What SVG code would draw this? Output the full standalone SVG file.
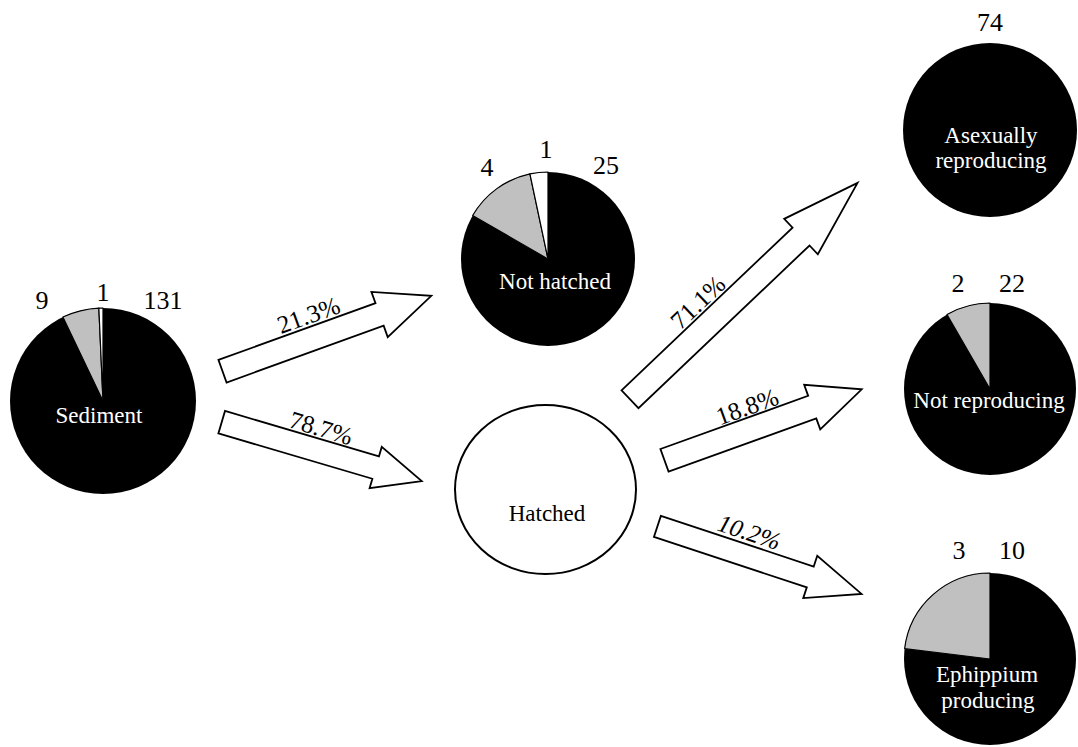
<svg xmlns="http://www.w3.org/2000/svg" width="1078" height="747" viewBox="0 0 1078 747">
<style>
  text { font-family: "Liberation Serif", "Times New Roman", serif; }
  .num { font-size: 26px; fill: #000; text-anchor: middle; }
  .lbl { font-size: 23px; fill: #fff; text-anchor: middle; }
  .pct { font-size: 25px; fill: #000; text-anchor: middle; }
  .pie { fill: #000; }
  .gray { fill: #c0c0c0; stroke: #000; stroke-width: 1.2; stroke-linejoin: round; }
  .white { fill: #fff; stroke: #000; stroke-width: 1.2; stroke-linejoin: round; }
  .arrow { fill: #fff; stroke: #000; stroke-width: 1.8; stroke-linejoin: miter; }
</style>
<rect width="1078" height="747" fill="#fff"/>

<g id="sediment">
  <circle class="pie" cx="103" cy="401" r="93"/>
  <path class="gray" d="M103,401 L98.86,308.09 A93,93 0 0 0 62.92,317.08 Z"/>
  <path class="white" d="M103,401 L103,308 A93,93 0 0 0 98.86,308.09 Z"/>
  <text class="lbl" x="99" y="423">Sediment</text>
  <text class="num" x="42" y="309">9</text>
  <text class="num" x="103" y="301">1</text>
  <text class="num" x="163" y="309">131</text>
</g>

<g id="not-hatched">
  <circle class="pie" cx="548" cy="259" r="87"/>
  <path class="gray" d="M548,259 L529.91,173.9 A87,87 0 0 0 472.66,215.5 Z"/>
  <path class="white" d="M548,259 L548,172 A87,87 0 0 0 529.91,173.9 Z"/>
  <text class="lbl" x="555" y="289">Not hatched</text>
  <text class="num" x="487" y="176">4</text>
  <text class="num" x="546" y="158">1</text>
  <text class="num" x="606" y="174">25</text>
</g>

<g id="hatched">
  <ellipse cx="545.5" cy="489.5" rx="90.5" ry="84.5" fill="#fff" stroke="#000" stroke-width="2"/>
  <text x="547" y="521" font-size="23" fill="#000" text-anchor="middle">Hatched</text>
</g>

<g id="asexually-reproducing">
  <circle class="pie" cx="990" cy="130" r="87"/>
  <text class="lbl" x="991" y="143">Asexually</text>
  <text class="lbl" x="991" y="168">reproducing</text>
  <text class="num" x="990" y="31">74</text>
</g>

<g id="not-reproducing">
  <circle class="pie" cx="990" cy="389" r="86"/>
  <path class="gray" d="M990,389 L990,303 A86,86 0 0 0 947,314.52 Z"/>
  <text class="lbl" x="989" y="408">Not reproducing</text>
  <text class="num" x="958" y="292">2</text>
  <text class="num" x="1012" y="292">22</text>
</g>

<g id="ephippium-producing">
  <circle class="pie" cx="990" cy="659" r="86"/>
  <path class="gray" d="M990,659 L990,573 A86,86 0 0 0 904.63,648.63 Z"/>
  <text class="lbl" x="987" y="682">Ephippium</text>
  <text class="lbl" x="988" y="708">producing</text>
  <text class="num" x="959" y="559">3</text>
  <text class="num" x="1012" y="559">10</text>
</g>

<g id="connectors">
  <g transform="translate(222.5,371.2) rotate(-19.86)">
    <polygon class="arrow" points="0,-12 167,-12 167,-24 222,0 167,24 167,12 0,12"/>
    <text class="pct" x="100" y="-15">21.3%</text>
  </g>
  <g transform="translate(221.7,422.2) rotate(16.4)">
    <polygon class="arrow" points="0,-11.7 160.5,-11.7 160.5,-21.5 208.5,0 160.5,21.5 160.5,11.7 0,11.7"/>
    <text class="pct" x="97" y="-14">78.7%</text>
  </g>
  <g transform="translate(630,399.2) rotate(-43.56)">
    <polygon class="arrow" points="0,-12.3 236,-12.3 236,-24.4 314,0 236,24.4 236,12.3 0,12.3"/>
    <text class="pct" x="116" y="-15">71.1%</text>
  </g>
  <g transform="translate(664.5,460.3) rotate(-19.8)">
    <polygon class="arrow" points="0,-12 157,-12 157,-23.7 209.6,0 157,23.7 157,12 0,12"/>
    <text class="pct" x="96" y="-14">18.8%</text>
  </g>
  <g transform="translate(657.4,526.4) rotate(18.3)">
    <polygon class="arrow" points="0,-11 161,-11 161,-22.3 215,0 161,22.3 161,11 0,11"/>
    <text class="pct" x="89" y="-15" font-style="italic">10.2%</text>
  </g>
</g>
</svg>
